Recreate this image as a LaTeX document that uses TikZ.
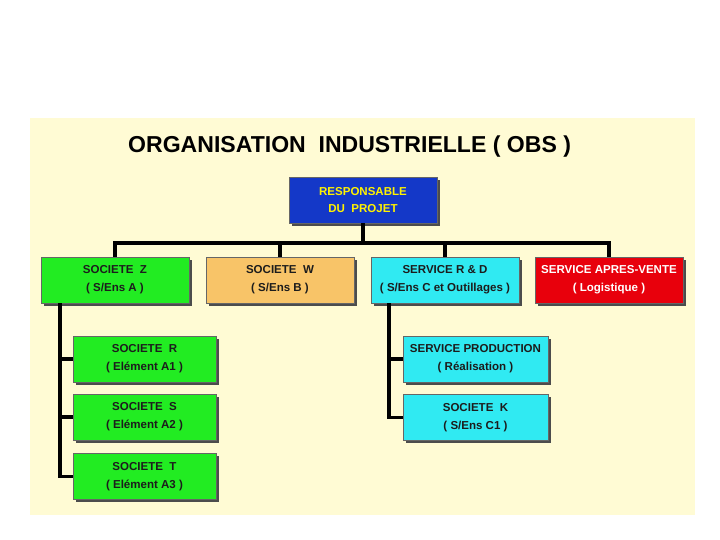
\documentclass[tikz,border=0pt]{standalone}
\usepackage{fontspec}
\setmainfont{Liberation Sans}
\usepackage{tikz}
\usetikzlibrary{positioning,shadows,calc}
\definecolor{paper}{HTML}{FFFBD4}
\definecolor{chief}{HTML}{1438C8}
\definecolor{vert}{HTML}{22EC22}
\definecolor{orange}{HTML}{F8C468}
\definecolor{cyan}{HTML}{30EAF2}
\definecolor{rouge}{HTML}{E8000C}
\definecolor{ink}{HTML}{1C1C1C}

\begin{document}
\begin{tikzpicture}[font=\bfseries,
  box/.style={draw=black!60,line width=0.4pt,minimum width=3.7cm,minimum height=1.15cm,
    inner sep=1pt,align=center,text=ink,font=\fontsize{8.2}{12.6}\selectfont\bfseries,
    drop shadow={shadow xshift=0.07cm,shadow yshift=-0.07cm,fill=black!70,opacity=1}},
  sub/.style={box,minimum width=3.6cm},
  link/.style={draw=black,line width=2.4pt}]
  \useasboundingbox (0,0) rectangle (18,-13.5);
  \fill[white] (0,0) rectangle (18,-13.5);
  % pale yellow sheet
  \fill[paper] (0.75,-2.95) rectangle (17.375,-12.875);

  \node[font=\fontsize{16.4}{19}\selectfont\bfseries] (title) at (8.74,-3.66)
    {ORGANISATION\ \ INDUSTRIELLE ( OBS )};

  % ---------------- head ----------------
  \node[box,fill=chief,text=yellow] (resp) at (9.075,-5.0) {RESPONSABLE\\DU\ \ PROJET};

  % ---------------- first level ----------------
  \node[box,fill=vert] (z) at (2.875,-7.0) {SOCIETE\ \ Z\\( S/Ens A )};
  \node[box,fill=orange] (w) at (7.0,-7.0) {SOCIETE\ \ W\\( S/Ens B )};
  \node[box,fill=cyan] (rd) at (11.125,-7.0) {SERVICE R \& D\\( S/Ens C et Outillages )};
  \node[box,fill=rouge,text=white] (sav) at (15.225,-7.0) {SERVICE APRES-VENTE\\( Logistique )};

  % ---------------- second level ----------------
  \node[sub,minimum width=3.575cm,fill=vert] (r) at (3.6125,-8.975) {SOCIETE\ \ R\\( Elément A1 )};
  \node[sub,minimum width=3.575cm,fill=vert] (s) at (3.6125,-10.425) {SOCIETE\ \ S\\( Elément A2 )};
  \node[sub,minimum width=3.575cm,fill=vert] (t) at (3.6125,-11.9125) {SOCIETE\ \ T\\( Elément A3 )};
  \node[sub,minimum width=3.625cm,fill=cyan] (prod) at (11.8875,-8.975) {SERVICE PRODUCTION\\( Réalisation )};
  \node[sub,minimum width=3.625cm,fill=cyan] (k) at (11.8875,-10.4375) {SOCIETE\ \ K\\( S/Ens C1 )};

  % connectors
  \coordinate (bus) at (9.075,-6.075);
  \draw[link] (resp.south) -- (bus);
  \foreach \n in {z,w,rd,sav} \draw[link] (bus) -| (\n.north);

  \coordinate (zsp) at ([xshift=-1.375cm]z.south);
  \draw[link] (zsp) |- (t.west);
  \foreach \n in {r,s} \draw[link] (\n.west -| zsp) -- (\n.west);

  \coordinate (rdsp) at ([xshift=-1.4cm]rd.south);
  \draw[link] (rdsp) |- (k.west);
  \draw[link] (prod.west -| rdsp) -- (prod.west);
\end{tikzpicture}
\end{document}
